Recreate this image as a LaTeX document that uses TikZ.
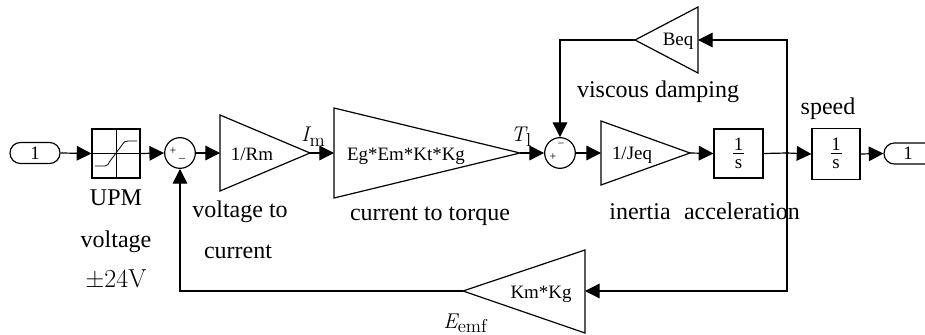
\documentclass[tikz,border=0pt]{standalone}
\usepackage[no-math]{fontspec}
\setmainfont{Liberation Serif}
\newfontfamily\lmfont{Latin Modern Roman}
\newcommand\msublabel[2]{{\lmfont\itshape #1}\kern0.3pt\raisebox{-3.3pt}{\fontsize{14}{15}\selectfont\lmfont #2}}
\usetikzlibrary{arrows.meta}
\begin{document}
\begin{tikzpicture}[x=0.75pt,y=-0.75pt, line width=0.9pt,
  arr/.style={-{Triangle[length=11pt,width=11pt]}},
  lbl/.style={font=\fontsize{18}{20}\selectfont, inner sep=0pt, anchor=base},
  gtxt/.style={font=\fontsize{14.2}{16}\selectfont, inner sep=0pt, anchor=base},
  mlbl/.style={font=\fontsize{16}{18}\selectfont, inner sep=0pt, anchor=base},
  sgn/.style={font=\fontsize{9}{10}\selectfont, inner sep=0pt},
  port/.style={draw, rounded corners=7.8pt, minimum width=37.5pt, minimum height=15.75pt, inner sep=0pt, font=\fontsize{14.2}{16}\selectfont},
  blk/.style={draw, inner sep=0pt},
  sumb/.style={draw, circle, minimum size=23pt, inner sep=0pt}]
\useasboundingbox (0,0) rectangle (925,335);
\clip (0,0) rectangle (925,335);

% ports and blocks
\node[port] (in) at (35,153) {1};
\node[blk, minimum width=36pt, minimum height=36.75pt] (sat) at (116,153.5) {};
\draw[line width=0.6pt] (sat.north) -- (sat.south) (sat.west) -- (sat.east);
\draw[line width=0.6pt] (95,166) -- (105,166) .. controls (108,166) and (108,164) .. (110,161) -- (122,145) .. controls (124,142) and (125,141) .. (128,141) -- (137,141);

\node[sumb] (s1) at (180,153) {};
\node[sgn] at (173,151) {+};
\node[sgn] at (182,158) {\_};

% gain 1/Rm
\draw (220,115) coordinate (g1a) -- (310,153) coordinate (g1e) -- (220,191) -- cycle;
\coordinate (g1w) at (220,153);
\node[gtxt] (g1t) at (252,161) {1/Rm};

% gain Eg*Em*Kt*Kg
\draw (334,108) -- (520,153) coordinate (g2e) -- (334,198) -- cycle;
\coordinate (g2w) at (334,153);
\node[gtxt] (g2t) at (406,161) {Eg*Em*Kt*Kg};

\node[sumb] (s2) at (560,153) {};
\node[sgn] at (553,157) {+};
\node[sgn] at (561,145) {\textminus};

% gain 1/Jeq
\draw (601,121) -- (690,153) coordinate (g3e) -- (601,185) -- cycle;
\coordinate (g3w) at (601,153);
\node[gtxt] (g3t) at (632,160) {1/Jeq};

% integrators
\node[blk, minimum width=36.75pt, minimum height=36.75pt] (int1) at (738.5,153.5) {};
\node[gtxt] (i1n) at (738.5,150) {1};
\draw[line width=0.6pt] (733,153.5) -- (744,153.5);
\node[gtxt] (i1d) at (738.5,168) {s};

\node[blk, minimum width=36pt, minimum height=38pt] (int2) at (836,154) {};
\node[gtxt] (i2n) at (836,150) {1};
\draw[line width=0.6pt] (830.5,153.5) -- (841.5,153.5);
\node[gtxt] (i2d) at (836,168) {s};

\node[port, minimum width=38.25pt] (out) at (909.5,153.5) {};
\node[gtxt] (outt) at (908,159) {1};

% Beq gain
\draw (698,7) coordinate (beqT) -- (635,40) coordinate (beqL) -- (698,73) -- cycle;
\coordinate (beqR) at (698,40);
\node[gtxt] (beqt) at (678,46) {Beq};

% Km*Kg gain
\draw (585,250) -- (463,291) coordinate (kmL) -- (585,333) -- cycle;
\coordinate (kmR) at (585,291);
\node[gtxt] (kmt) at (541,298) {Km*Kg};

% branch point
\coordinate (bp) at (787,153);
\fill (bp) circle (1.8);

% connectors
\draw[arr] (in.east) -- (sat.west);
\draw[arr] (sat.east) -- (s1.west);
\draw[arr] (s1.east) -- (g1w);
\draw[arr] (g1e) -- (g2w);
\draw[arr] (g2e) -- (s2.west);
\draw[arr] (s2.east) -- (g3w);
\draw[arr] (g3e) -- (int1.west);
\draw (int1.east) -- (bp);
\draw[arr] (bp) -- (int2.west);
\draw[arr] (int2.east) -- (out.west);
\draw[arr] (bp) |- (beqR);
\draw[arr] (bp) |- (kmR);
\draw[arr] (beqL) -| (s2.north);
\draw[arr] (kmL) -| (s1.south);

% labels
\node[lbl] at (116,205) {UPM};
\node[lbl] at (116,247) {voltage};
\node[lbl] at (116,287) {\fontsize{19.5}{21}\selectfont\lmfont ±24V};
\node[lbl] at (240,217) {voltage to};
\node[lbl] at (238,258) {current};
\node[lbl] at (430,220) {current to torque};
\node[lbl] at (640,219) {inertia};
\node[lbl] at (742,219) {acceleration};
\node[lbl] at (658,98) {viscous damping};
\node[lbl] at (828,115) {speed};
\node[mlbl] at (313,142) {\msublabel{I}{m}};
\node[mlbl] at (521,142) {\msublabel{T}{l}};
\node[mlbl] at (465,328) {\msublabel{E}{emf}};
\end{tikzpicture}
\end{document}
